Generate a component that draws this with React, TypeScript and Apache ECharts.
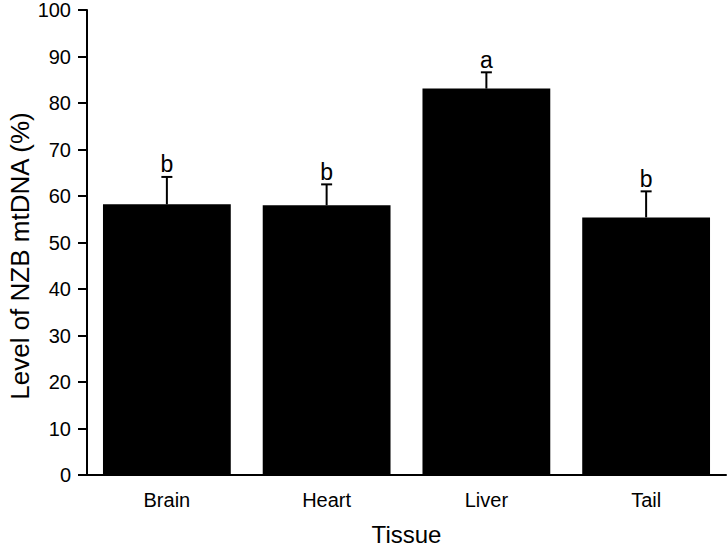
import React, { useEffect, useRef } from "react";
import * as echarts from "echarts";

const categories = ["Brain", "Heart", "Liver", "Tail"];
const means = [58.2, 58.0, 83.1, 55.4];
const errors = [5.9, 4.5, 3.5, 5.6];
const letters = ["b", "b", "a", "b"];
const yTitle = "Level of NZB mtDNA (%)";
const xTitle = "Tissue";

const FONT = "'Liberation Sans', Arial, Helvetica, sans-serif";

export default function App() {
  const ref = useRef<HTMLDivElement>(null);
  useEffect(() => {
    if (!ref.current) return;
    const chart = echarts.init(ref.current, null, { renderer: "svg" });
    const errData = categories.map((c, i) => [i, means[i], means[i] + errors[i]]);
    chart.setOption({
      animation: false,
      backgroundColor: "#ffffff",
      grid: {
        left: 87,
        right: 1,
        top: 10,
        bottom: 73,
        containLabel: false,
        outerBoundsMode: "none",
      },
      graphic: [
        {
          type: "text",
          x: 20,
          y: 256,
          rotation: Math.PI / 2,
          style: {
            text: yTitle,
            fontFamily: FONT,
            fontSize: 26,
            fill: "#000",
            align: "center",
            verticalAlign: "middle",
          },
        },
      ],
      xAxis: {
        type: "category",
        data: categories,
        name: xTitle,
        nameLocation: "middle",
        nameGap: 47,
        nameTextStyle: { fontFamily: FONT, fontSize: 24, color: "#000" },
        axisLine: { lineStyle: { color: "#000", width: 2 } },
        axisTick: { alignWithLabel: true, length: 8, lineStyle: { color: "#000", width: 2 } },
        axisLabel: { fontFamily: FONT, fontSize: 20, color: "#000", margin: 15 },
      },
      yAxis: {
        type: "value",
        min: 0,
        max: 100,
        interval: 10,
        axisLine: { show: true, lineStyle: { color: "#000", width: 2 } },
        axisTick: { show: true, length: 9, lineStyle: { color: "#000", width: 2 } },
        axisLabel: { fontFamily: FONT, fontSize: 20, color: "#000", margin: 16 },
        splitLine: { show: false },
      },
      series: [
        {
          type: "bar",
          data: means,
          barWidth: "80%",
          itemStyle: { color: "#000" },
          z: 2,
        },
        {
          type: "custom",
          data: errData,
          z: 3,
          renderItem: (params: any, api: any) => {
            const base = api.coord([api.value(0), api.value(1)]);
            const top = api.coord([api.value(0), api.value(2)]);
            const x = base[0];
            const half = 5.5;
            return {
              type: "group",
              children: [
                {
                  type: "line",
                  shape: { x1: x, y1: base[1], x2: x, y2: top[1] },
                  style: { stroke: "#000", lineWidth: 2 },
                },
                {
                  type: "line",
                  shape: { x1: x - half, y1: top[1], x2: x + half, y2: top[1] },
                  style: { stroke: "#000", lineWidth: 2 },
                },
                {
                  type: "text",
                  x: x,
                  y: top[1] - 1,
                  style: {
                    text: letters[params.dataIndex],
                    fontFamily: FONT,
                    fontSize: 23,
                    fill: "#000",
                    align: "center",
                    verticalAlign: "bottom",
                  },
                },
              ],
            };
          },
        },
      ],
    });
    return () => chart.dispose();
  }, []);
  return (
    <div
      ref={ref}
      style={{ position: "absolute", left: 0, top: 0, width: 727, height: 548 }}
    />
  );
}
